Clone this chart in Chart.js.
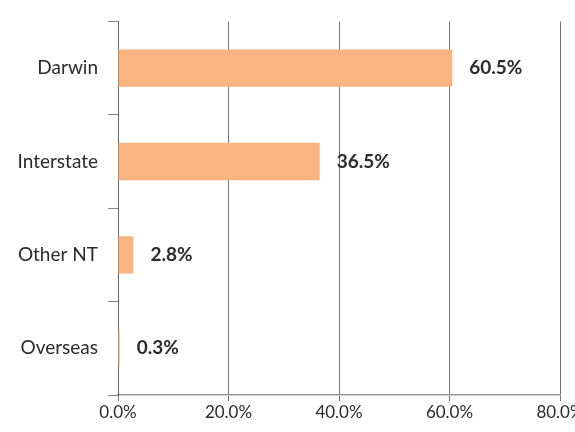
<!DOCTYPE html>
<html>
<head>
<meta charset="utf-8">
<script src="https://cdn.jsdelivr.net/npm/chart.js@4"></script>
<style>
  html, body { margin: 0; padding: 0; background: #fff; }
  #wrap { width: 575px; height: 432px; }
</style>
</head>
<body>
<div id="wrap"><canvas id="originChart"></canvas></div>
<script>
// Data
const categories = ['Darwin', 'Interstate', 'Other NT', 'Overseas'];
const shares = [60.5, 36.5, 2.8, 0.3];
const xTicks = [0, 20, 40, 60, 80];

// draw the value labels just past the end of each bar
const valueLabels = {
  id: 'valueLabels',
  afterDatasetsDraw(chart) {
    const ctx = chart.ctx;
    const meta = chart.getDatasetMeta(0);
    ctx.save();
    ctx.font = 'bold 19px Lato, sans-serif';
    ctx.fillStyle = '#2b2b2b';
    ctx.textBaseline = 'middle';
    meta.data.forEach((bar, i) => {
      ctx.fillText(shares[i].toFixed(1) + '%', bar.x + 17, bar.y);
    });
    ctx.restore();
  }
};

const ctx = document.getElementById('originChart').getContext('2d');
new Chart(ctx, {
  type: 'bar',
  data: {
    labels: categories,
    datasets: [{
      data: shares,
      backgroundColor: '#F9B47F',
      borderWidth: 0,
      categoryPercentage: 1,
      barPercentage: 0.4
    }]
  },
  options: {
    indexAxis: 'y',
    responsive: true,
    maintainAspectRatio: false,
    animation: false,
    layout: { padding: { top: 18, right: 15, bottom: 0, left: 0 } },
    plugins: {
      legend: { display: false },
      tooltip: { enabled: false }
    },
    scales: {
      x: {
        min: 0,
        max: 80,
        afterBuildTicks: scale => { scale.ticks = xTicks.map(v => ({ value: v })); },
        afterFit: scale => { scale.height = 37; scale.paddingRight = 0; },
        grid: { color: '#777', lineWidth: 1, tickLength: 6 },
        border: { color: '#999', width: 1.5 },
        ticks: {
          color: '#2b2b2b',
          font: { family: 'Lato, sans-serif', size: 17 },
          padding: 1,
          maxRotation: 0,
          callback: v => v.toFixed(1) + '%'
        }
      },
      y: {
        afterFit: scale => { scale.width = 118; },
        grid: { drawOnChartArea: false, color: '#888', tickLength: 10 },
        border: { color: '#666', width: 1 },
        ticks: {
          color: '#2b2b2b',
          font: { family: 'Lato, sans-serif', size: 19 },
          padding: 10
        }
      }
    }
  },
  plugins: [valueLabels]
});
</script>
</body>
</html>
